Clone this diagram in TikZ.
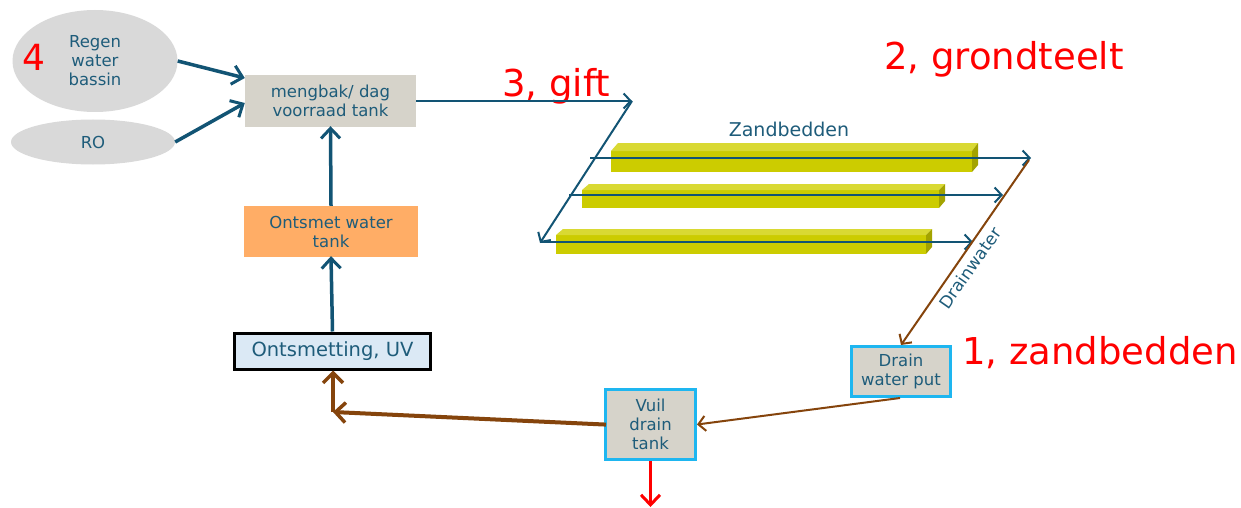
\documentclass[tikz,border=0pt]{standalone}
\usepackage{fontspec}
\setmainfont{DejaVu Sans}
\usetikzlibrary{arrows.meta,shapes.geometric}
\definecolor{tealc}{RGB}{18,84,116}
\definecolor{txtc}{RGB}{30,92,122}
\definecolor{brownc}{RGB}{133,68,12}
\definecolor{boxgray}{RGB}{214,211,202}
\definecolor{ellgray}{RGB}{217,217,217}
\definecolor{orangec}{RGB}{255,173,102}
\definecolor{uvblue}{RGB}{219,233,245}
\definecolor{cyanb}{RGB}{30,182,240}
\definecolor{barfront}{RGB}{204,204,0}
\definecolor{bartop}{RGB}{217,217,51}
\definecolor{barside}{RGB}{163,163,0}
\definecolor{redc}{RGB}{255,0,0}
\tikzset{
  boxtext/.style={text=txtc,font=\fontsize{16.5}{19}\selectfont,align=center,inner sep=0pt},
  ellnode/.style={ellipse,fill=ellgray,boxtext},
  graybox/.style={rectangle,fill=boxgray,boxtext},
  cyanbox/.style={rectangle,fill=boxgray,draw=cyanb,line width=3pt,boxtext},
  redlabel/.style={text=redc,font=\fontsize{37}{42}\selectfont,inner sep=0pt,anchor=base west},
  thickteal/.style={draw=tealc,line width=3.5pt,-{Straight Barb[length=10pt,width=19pt,line width=3pt]}},
  thinteal/.style={draw=tealc,line width=2pt,-{Straight Barb[length=7pt,width=15pt,line width=2pt]}},
  thinbrown/.style={draw=brownc,line width=2pt,-{Straight Barb[length=7pt,width=15pt,line width=2pt]}},
  thickbrown/.style={draw=brownc,line width=4pt,-{Straight Barb[length=10pt,width=20pt,line width=3.5pt]}},
  redarrow/.style={draw=redc,line width=3.5pt,-{Straight Barb[length=10pt,width=19pt,line width=3pt]}},
  barfrontstyle/.style={fill=barfront},
  bartopstyle/.style={fill=bartop},
  barsidestyle/.style={fill=barside}
}
\newcommand{\sandbar}[5]{% left, backtop, fronttop, bottom, frontright
  \fill[barfrontstyle] (#1,#3) rectangle (#5,#4);
  \fill[bartopstyle] (#1,#3) -- ({#1+7},#2) -- ({#5+6},#2) -- (#5,#3) -- cycle;
  \fill[barsidestyle] (#5,#3) -- ({#5+6},#2) -- ({#5+6},{#4-7}) -- (#5,#4) -- cycle;
}
\begin{document}
\begin{tikzpicture}[x=1pt,y=-1pt]
\useasboundingbox[fill=white] (0,0) rectangle (1241,508);

% sources
\node[ellnode,minimum width=165pt,minimum height=102pt] (rain) at (95,61) {Regen\\water\\bassin};
\node[text=redc,font=\fontsize{36}{38}\selectfont,inner sep=0pt] (four) at (34,57) {4};
\node[ellnode,minimum width=164pt,minimum height=45pt] (ro) at (93,142) {RO};

% boxes
\node[graybox,minimum width=171pt,minimum height=52pt] (meng) at (330.5,101) {mengbak/ dag\\voorraad tank};
\node[rectangle,fill=orangec,boxtext,minimum width=174pt,minimum height=51pt] (ontw) at (331,231.5) {Ontsmet water\\tank};
\node[rectangle,fill=uvblue,draw=black,line width=3pt,boxtext,font=\fontsize{19.5}{22}\selectfont,minimum width=196pt,minimum height=36pt] (uv) at (332.5,351) {Ontsmetting, UV};
\node[cyanbox,minimum width=99pt,minimum height=50pt] (put) at (901,371.5) {Drain\\water put};
\node[cyanbox,minimum width=90pt,minimum height=70pt] (vuil) at (650.5,424.5) {Vuil\\drain\\tank};

% labels
\node[redlabel] (l3) at (502,97) {3, gift};
\node[redlabel] (l2) at (884,70) {2, grondteelt};
\node[redlabel] (l1) at (962,364) {1, zandbedden};
\node[text=txtc,font=\fontsize{19}{22}\selectfont,inner sep=0pt] (zand) at (789,129) {Zandbedden};

% sand beds
\sandbar{611}{143}{151}{172}{972}
\sandbar{582}{184}{190}{208}{939}
\sandbar{556}{229}{235}{254}{926}

% coordinates
\coordinate (gtop) at (632,101);
\coordinate (gbot) at (540,243);
\coordinate (r1s) at (590,158);
\coordinate (r1e) at (1031,158);
\coordinate (r2s) at (569,195);
\coordinate (r2e) at (1003,195);
\coordinate (r3s) at (540,242);
\coordinate (r3e) at (973,242);
\coordinate (dtop) at (1029,160);
\coordinate (bend) at (333,412);
\coordinate (redend) at (650.5,507);

% connectors
\draw[thickteal] (rain.east) -- (meng.west |- 0,78);
\draw[thickteal] (ro.east) -- (meng.west |- 0,103);
\draw[thickteal,shorten >=-1pt] (ontw.north) -- (meng.south);
\draw[thickteal,shorten >=-1pt] (uv.north) -- (ontw.south);
\draw[thinteal] (meng.east) -- (gtop);
\draw[thinteal] (gtop) -- (gbot);
\draw[thinteal] (r1s) -- (r1e);
\draw[thinteal] (r2s) -- (r2e);
\draw[thinteal] (r3s) -- (r3e);
\draw[thinbrown] (dtop) -- (put.north);
\node[text=txtc,font=\fontsize{17}{20}\selectfont,inner sep=0pt,rotate=55] (dw) at (970,268) {Drainwater};
\draw[thinbrown] (put.south) ++(-1,0) -- (vuil.east);
\draw[thickbrown,shorten <=-2pt] (vuil.west) -- (bend);
\draw[thickbrown] (bend) -- (uv.south -| bend);
\draw[redarrow] (vuil.south) -- (redend);
\end{tikzpicture}
\end{document}
